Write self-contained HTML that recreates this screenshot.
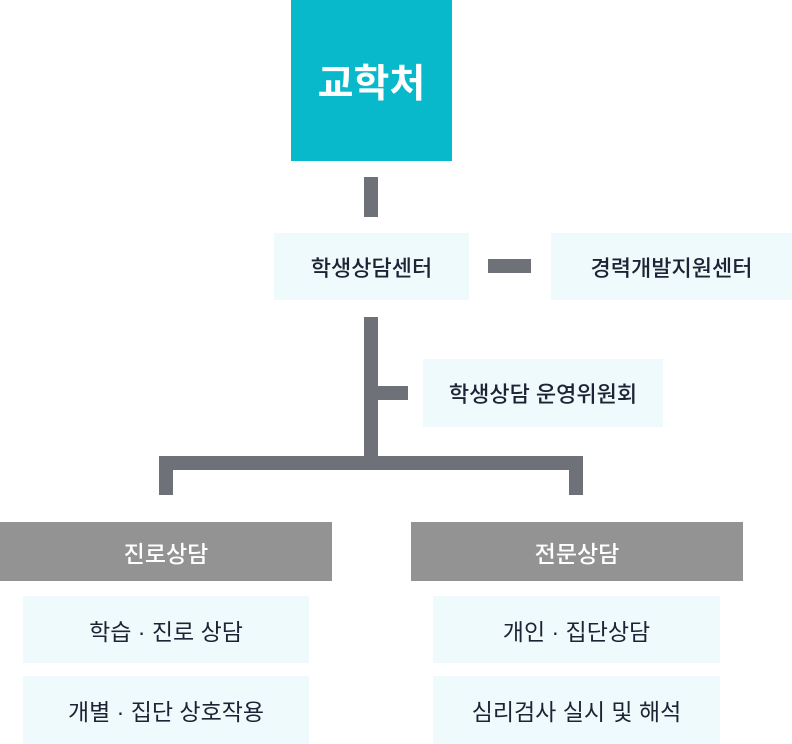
<!DOCTYPE html>
<html><head><meta charset="utf-8"><style>
body{margin:0;width:792px;height:744px;position:relative;background:#fff;overflow:hidden;font-family:"Liberation Sans","Noto Sans CJK KR",sans-serif}
.b{position:absolute;display:flex;align-items:center;justify-content:center;box-sizing:border-box;white-space:nowrap}
.l{background:#eefafb;color:#1e2235;font-size:22px;font-weight:500}
.g{background:#939393;color:#fff;font-size:23px;font-weight:500}
.c{position:absolute;background:#6f7179}
.n{font-size:23px;font-weight:400}
</style></head><body>
<div class="b" style="left:291px;top:0;width:161px;height:161px;background:#08b9cc;color:#fff;font-size:39px;font-weight:bold">교학처</div>
<div class="c" style="left:364px;top:177px;width:14px;height:40px"></div>
<div class="b l" style="left:274px;top:233px;width:195px;height:67px">학생상담센터</div>
<div class="c" style="left:488px;top:259px;width:43px;height:14px"></div>
<div class="b l" style="left:551px;top:233px;width:241px;height:67px">경력개발지원센터</div>
<div class="c" style="left:364px;top:317px;width:14px;height:150px"></div>
<div class="c" style="left:378px;top:386px;width:30px;height:14px"></div>
<div class="b l" style="left:423px;top:359px;width:240px;height:68px">학생상담 운영위원회</div>
<div class="c" style="left:159px;top:456px;width:424px;height:14px"></div>
<div class="c" style="left:159px;top:456px;width:14px;height:39px"></div>
<div class="c" style="left:569px;top:456px;width:14px;height:39px"></div>
<div class="b g" style="left:0;top:522px;width:332px;height:59px">진로상담</div>
<div class="b g" style="left:411px;top:522px;width:332px;height:59px">전문상담</div>
<div class="b l n" style="left:23px;top:596px;width:286px;height:67px">학습 · 진로 상담</div>
<div class="b l n" style="left:23px;top:676px;width:286px;height:68px">개별 · 집단 상호작용</div>
<div class="b l n" style="left:433px;top:596px;width:287px;height:67px">개인 · 집단상담</div>
<div class="b l n" style="left:433px;top:676px;width:287px;height:68px">심리검사 실시 및 해석</div>
</body></html>
